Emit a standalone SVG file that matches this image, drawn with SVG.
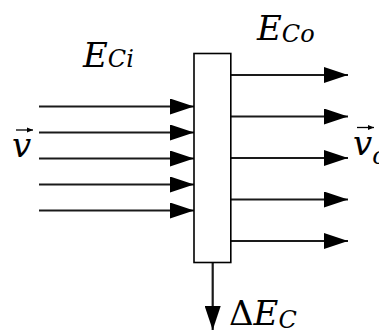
<svg xmlns="http://www.w3.org/2000/svg" width="379" height="333" viewBox="0 0 379 333">
  <defs>
    <marker id="head" viewBox="0 0 24 16" refX="24" refY="8" markerWidth="24" markerHeight="16" markerUnits="userSpaceOnUse" orient="auto">
      <path d="M0,0 L24,8 L0,16 Z" fill="#000"/>
    </marker>
    <marker id="vhead" viewBox="0 0 6 6" refX="6" refY="3" markerWidth="6" markerHeight="6" markerUnits="userSpaceOnUse" orient="auto">
      <path d="M0,0.5 L6,3 L0,5.5 Z" fill="#000"/>
    </marker>
    <style>
      .flow { stroke: #1a1a1a; stroke-width: 2.2; fill: none; marker-end: url(#head); }
      .box { fill: #fff; stroke: #000; stroke-width: 1.6; }
      .math { font-family: "DejaVu Serif", "Liberation Serif", serif; font-style: italic; fill: #000; }
      .up { font-family: "DejaVu Serif", "Liberation Serif", serif; font-style: normal; fill: #000; }
      .vec { stroke: #000; stroke-width: 1.3; fill: none; marker-end: url(#vhead); }
    </style>
  </defs>

  <!-- connectors: incoming flow, outgoing flow, loss -->
  <g id="connectors">
    <path class="flow" d="M39,106.5 H194"/>
    <path class="flow" d="M39,132.5 H194"/>
    <path class="flow" d="M39,158.5 H194"/>
    <path class="flow" d="M39,184.5 H194"/>
    <path class="flow" d="M39,210.5 H194"/>

    <path class="flow" d="M231,75 H348"/>
    <path class="flow" d="M231,116.5 H348"/>
    <path class="flow" d="M231,158 H348"/>
    <path class="flow" d="M231,199.5 H348"/>
    <path class="flow" d="M231,241 H348"/>

    <path class="flow" d="M212.7,263 V330"/>
  </g>

  <!-- converter element -->
  <g id="converter">
    <rect class="box" x="194" y="53.5" width="36.8" height="209"/>
  </g>

  <g id="label-eci">
    <text class="math" x="83" y="66.7" font-size="34">E<tspan font-size="24">Ci</tspan></text>
  </g>

  <g id="label-eco">
    <text class="math" x="257" y="40" font-size="34">E<tspan font-size="24" dy="2">Co</tspan></text>
  </g>

  <g id="label-v-in">
    <text class="math" x="12" y="157" font-size="34">v</text>
    <path class="vec" d="M16,130 H33"/>
  </g>

  <g id="label-v-out">
    <text class="math" x="353" y="155" font-size="34">v<tspan font-size="24" dy="9">o</tspan></text>
    <path class="vec" d="M357,127.5 H374"/>
  </g>

  <g id="label-loss">
    <text class="up" x="229" y="325" font-size="34">Δ<tspan class="math">E</tspan><tspan class="math" font-size="24" dy="3">C</tspan></text>
  </g>
</svg>
